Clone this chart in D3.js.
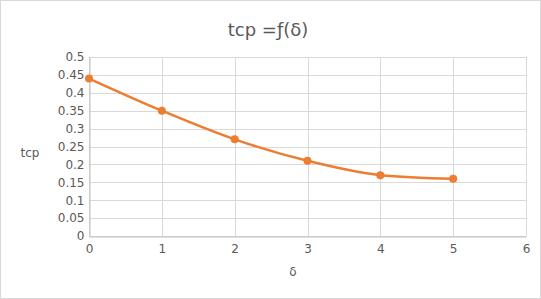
<!DOCTYPE html>
<html>
<head>
<meta charset="utf-8">
<script src="https://cdn.jsdelivr.net/npm/d3@7"></script>
<style>
  body { margin: 0; background: #fff; }
  svg { display: block; font-family: "DejaVu Sans", sans-serif; }
</style>
</head>
<body>
<div id="chart"></div>
<script>
// data
const deltaValues = [0, 1, 2, 3, 4, 5];
const tcpValues = [0.44, 0.35, 0.27, 0.21, 0.17, 0.16];
const xTicks = [0, 1, 2, 3, 4, 5, 6];
const yTicks = [0, 0.05, 0.1, 0.15, 0.2, 0.25, 0.3, 0.35, 0.4, 0.45, 0.5];

const width = 541;
const height = 299;
const margin = { top: 57, right: 15, bottom: 63, left: 89 };

const svg = d3.select("#chart")
    .append("svg")
    .attr("width", width)
    .attr("height", height);

// outer border
svg.append("rect")
    .attr("x", 0.5).attr("y", 0.5)
    .attr("width", width - 1).attr("height", height - 1)
    .attr("fill", "#fff")
    .attr("stroke", "#d9d9d9");

const x = d3.scaleLinear().domain([0, 6]).range([margin.left, width - margin.right]);
const y = d3.scaleLinear().domain([0, 0.5]).range([height - margin.bottom, margin.top]);

// gridlines
svg.append("g")
    .selectAll("line.h")
    .data(yTicks)
    .enter().append("line")
    .attr("x1", x(0)).attr("x2", x(6))
    .attr("y1", d => Math.round(y(d)) + 0.5)
    .attr("y2", d => Math.round(y(d)) + 0.5)
    .attr("stroke", "#d9d9d9");

svg.append("g")
    .selectAll("line.v")
    .data(xTicks)
    .enter().append("line")
    .attr("y1", y(0)).attr("y2", y(0.5))
    .attr("x1", d => Math.round(x(d)) + 0.5)
    .attr("x2", d => Math.round(x(d)) + 0.5)
    .attr("stroke", "#d9d9d9");

// axes
const xAxis = svg.append("g")
    .attr("transform", `translate(0,${Math.round(y(0)) + 0.5})`)
    .call(d3.axisBottom(x).tickValues(xTicks).tickSize(0).tickPadding(8).tickFormat(d3.format("d")));
const yAxis = svg.append("g")
    .attr("transform", `translate(${Math.round(x(0)) + 0.5},0)`)
    .call(d3.axisLeft(y).tickValues(yTicks).tickSize(0).tickPadding(5).tickFormat(d => d === 0 ? "0" : String(+d.toFixed(2))));

[xAxis, yAxis].forEach(a => {
    a.select(".domain").attr("stroke", "#bfbfbf");
    a.selectAll("text")
        .attr("fill", "#595959")
        .attr("font-size", 12)
        .attr("font-family", "DejaVu Sans, sans-serif");
});

// series
const points = deltaValues.map((d, i) => ({ x: d, y: tcpValues[i] }));

const line = d3.line()
    .x(d => x(d.x))
    .y(d => y(d.y))
    .curve(d3.curveMonotoneX);

svg.append("path")
    .datum(points)
    .attr("fill", "none")
    .attr("stroke", "#ED7D31")
    .attr("stroke-width", 2.5)
    .attr("d", line);

svg.selectAll("circle.pt")
    .data(points)
    .enter().append("circle")
    .attr("class", "pt")
    .attr("cx", d => x(d.x))
    .attr("cy", d => y(d.y))
    .attr("r", 4)
    .attr("fill", "#ED7D31");

// titles
svg.append("text")
    .attr("x", 268).attr("y", 36)
    .attr("text-anchor", "middle")
    .attr("fill", "#595959")
    .attr("font-size", 18)
    .text("tcp =ƒ(δ)");

svg.append("text")
    .attr("x", 30).attr("y", 157)
    .attr("text-anchor", "middle")
    .attr("fill", "#595959")
    .attr("font-size", 12)
    .text("tcp");

svg.append("text")
    .attr("x", 293).attr("y", 276)
    .attr("text-anchor", "middle")
    .attr("fill", "#595959")
    .attr("font-size", 12)
    .text("δ");
</script>
</body>
</html>
